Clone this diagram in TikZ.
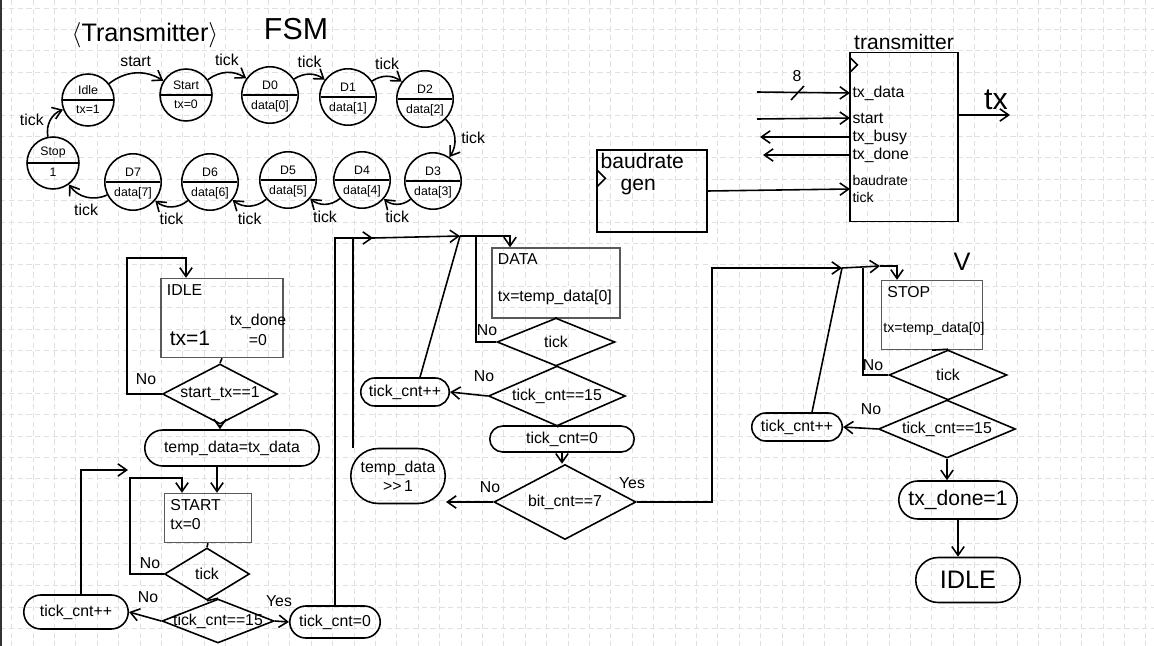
\documentclass[tikz,border=0pt]{standalone}
\usepackage{fontspec}
\setmainfont{Liberation Sans}
\usetikzlibrary{arrows.meta, positioning, shapes.geometric, shapes.misc, shapes.multipart, calc}

\begin{document}
\begin{tikzpicture}[
  x=0.02cm, y=-0.02cm,
  line width=0.9pt,
  gridln/.style = {draw=black!12, dash pattern=on 3pt off 2pt, line width=0.4pt},
  st/.style     = {circle split, draw, minimum size=1.04cm, inner xsep=0pt, inner ysep=2.5pt,
                   font=\fontsize{7}{7.5}\selectfont},
  arr/.style    = {-{Straight Barb[length=5pt,width=7pt]}},
  blk/.style    = {rectangle, draw, line width=0.7pt},
  sbox/.style   = {rectangle, draw=black!65, line width=0.8pt},
  dec/.style    = {diamond, draw, inner sep=0pt, label={[font=\small]center:#1}},
  term/.style   = {rounded rectangle, draw, inner sep=1pt, font=\small},
  lbl/.style    = {font=\small},
  pin/.style    = {anchor=west, inner sep=1pt, font=\small},
]

%% --- paper ---
\useasboundingbox (0,0) rectangle (1154,646);
\fill[white] (0,0) rectangle (1154,646);
\foreach \gx in {0,...,53}
  \draw[gridln] ({11.5+21.4*\gx},0) -- ({11.5+21.4*\gx},646);
\foreach \gy in {0,...,30}
  \draw[gridln] (0,{8+21.4*\gy}) -- (1154,{8+21.4*\gy});
\fill[black!80] (0,0) rectangle (2.5,646);

%% --- FSM title ---
\node[font=\Large] (ttl)    at (145,35) {$\langle$Transmitter$\rangle$};
\node[font=\LARGE] (ttlfsm) at (296,29) {FSM};

%% --- FSM states ---
\node[st] (sidle)  at (88,100) {Idle \nodepart{lower} tx=1};
\node[st] (sstart) at (186,95) {Start \nodepart{lower} tx=0};
\foreach \i/\px/\py in {0/270/95, 1/348/97, 2/425/99, 3/433/181,
                        4/362/180, 5/288/180, 6/210/182, 7/133/182}
  \node[st] (sd\i) at (\px,\py) {D\i \nodepart{lower} data[\i]};
\node[st] (sstop)  at (53,163) {Stop \nodepart{lower} 1};

%% --- FSM transitions ---
\draw[arr] (sidle) to[bend left=35] node[lbl, above]{start} (sstart);
\foreach \a/\b in {sstart/sd0, sd0/sd1, sd1/sd2}
  \draw[arr] (\a) to[bend left=35] node[lbl, above]{tick} (\b);
\draw[arr] (sd2) to[bend left=40] node[lbl, right]{tick} (sd3);
\foreach \a/\b in {sd3/sd4, sd4/sd5, sd5/sd6, sd6/sd7}
  \draw[arr] (\a) to[bend left=40] node[lbl, below]{tick} (\b);
\draw[arr] (sd7)   to[bend left=40] node[lbl, below]{tick} (sstop);
\draw[arr] (sstop) to[bend left=40] node[lbl, left]{tick} (sidle);

%% --- block diagram ---
\node[blk, minimum width=2.16cm, minimum height=3.38cm,
      label={[font=\large, inner sep=1pt]above:transmitter}] (txblk) at (904,137) {};
\draw ([yshift=-0.1cm]txblk.north west) -- ++(8,8) -- ++(-8,8);
\node[pin] (ptxd)   at (850,93)  {tx\_data};
\node[pin] (pstart) at (850,118) {start};
\node[pin] (pbusy)  at (850,137) {tx\_busy};
\node[pin] (pdone)  at (850,155) {tx\_done};
\node[pin, align=left, font=\footnotesize] (pbaud) at (850,189) {baudrate\\tick};

\node[blk, minimum width=2.2cm, minimum height=1.64cm] (bgen) at (652,191) {};
\node[anchor=north west, align=left, font=\large, inner sep=2pt] (bgent)
     at (bgen.north west) {baudrate\\[-2pt]\hspace{0.4cm}gen};
\draw ([yshift=-0.4cm]bgen.north west) -- ++(9,9) -- ++(-9,9);

\coordinate (intxd)   at (757,92);
\coordinate (instart) at (757,119);
\coordinate (outbusy) at (760,137);
\coordinate (outdone) at (763,155);
\coordinate (outtx)   at (1010,115);
\draw[arr] (intxd)   -- (ptxd.west);
\draw (791,100) -- (804,86);
\node[lbl] (nbus) at (797,76) {8};
\draw[arr] (instart) -- (pstart.west);
\draw[arr] (pbusy.west) -- (outbusy);
\draw[arr] (pdone.west) -- (outdone);
\draw[arr] (bgen.east)  -- (pbaud.west);
\draw[arr] (txblk.east |- outtx) -- (outtx);
\node[font=\LARGE] (ntx) at (996,100) {tx};

%% --- flow 1: IDLE / START ---
\node[sbox, minimum width=2.44cm, minimum height=1.58cm] (fidle) at (222,318) {};
\node[anchor=north west, font=\small] (fidlet) at (fidle.north west) {IDLE};
\node[font=\large] (fidletx) at (190,338) {tx=1};
\node[align=center, font=\small, inner sep=0pt] (fidledn) at (258,330) {tx\_done\\=0};
\node[dec={start\_tx==1}, minimum width=2.3cm, minimum height=1.2cm] (fstart) at (220,394) {};
\node[term, minimum width=3.56cm, minimum height=0.72cm] (ftemp) at (232,448) {temp\_data=tx\_data};
\node[sbox, minimum width=1.74cm, minimum height=0.98cm] (fst) at (208,518) {};
\node[anchor=north west, align=left, font=\small] (fstt) at (fst.north west) {START\\tx=0};
\node[dec={tick}, minimum width=1.7cm, minimum height=1.04cm] (ftick1) at (207,574) {};
\node[dec={tick\_cnt==15}, minimum width=2.24cm, minimum height=0.88cm] (fcnt1) at (218,621) {};
\node[term, minimum width=2.16cm, minimum height=0.68cm] (finc1) at (76,612) {tick\_cnt++};
\node[term, minimum width=1.88cm, minimum height=0.64cm] (fclr1) at (335,622) {tick\_cnt=0};

\draw (fidle.south) -- (fstart.north);
\draw[arr] (fstart.west) -| (127,258) -| ([xshift=-0.72cm]fidle.north);
\node[lbl] (nno1) at (146,379) {No};
\draw[arr] (fstart.south) -- (fstart.south |- ftemp.north);
\draw[arr] ([xshift=-0.3cm]ftemp.south) -- ([xshift=-0.3cm]ftemp.south |- fst.north);
\draw (fst.south) -- (ftick1.north);
\draw[arr] (ftick1.west) -| (130,478) -| ([xshift=-0.52cm]fst.north);
\node[lbl] (nno2) at (150,563) {No};
\draw (ftick1.south) -- (fcnt1.north);
\draw[arr] (fcnt1.west) -- (finc1.east);
\node[lbl] (nno3) at (148,597) {No};
\draw[arr] (fcnt1.east) -- (fclr1.west);
\node[lbl] (nyes1) at (279,601) {Yes};
\coordinate (j0) at (128,470);
\draw[arr] ([xshift=0.1cm]finc1.north) |- (j0);
\coordinate (j1) at (373,238);
\draw[arr] (fclr1.north) |- (j1);

%% --- flow 2: DATA ---
\node[sbox, minimum width=2.56cm, minimum height=1.4cm] (fdata) at (556,283) {};
\node[anchor=north west, font=\small] (fdatat) at (fdata.north west) {DATA};
\node[anchor=west, font=\small] (fdatatx) at ([yshift=-0.28cm]fdata.west) {tx=temp\_data[0]};
\node[dec={tick}, minimum width=2.36cm, minimum height=0.96cm] (ftick2) at (556,342) {};
\node[dec={tick\_cnt==15}, minimum width=2.74cm, minimum height=1.2cm] (fcnt2) at (557,396) {};
\node[term, minimum width=1.84cm, minimum height=0.56cm] (finc2) at (405,392) {tick\_cnt++};
\node[term, minimum width=2.96cm, minimum height=0.52cm] (fclr2) at (562,439) {tick\_cnt=0};
\node[dec={bit\_cnt==7}, minimum width=2.84cm, minimum height=1.5cm] (fbit) at (565,502) {};
\node[term, minimum width=1.96cm, minimum height=1.1cm, align=center] (fshift) at (398,476)
     {temp\_data\\{>}{>}\,1};

\coordinate (j2) at (460,236);
\coordinate (j3) at (476,236);
\draw (fdata.south) -- (ftick2.north);
\draw ([xshift=-0.9cm]fshift.north) |- (j1);
\draw[arr] (j1) -- (j2);
\draw[arr] (j2) -| ([xshift=-0.92cm]fdata.north);
\draw (ftick2.west) -| (j3);
\node[lbl] (nno4) at (487,330) {No};
\draw (ftick2.south) -- (fcnt2.north);
\draw[arr] (fcnt2.west) -- (finc2.east);
\node[lbl] (nno5) at (484,376) {No};
\draw ([xshift=0.3cm]finc2.north) -- (j2);
\draw (fcnt2.south) -- (fclr2.north);
\draw[arr] (fclr2.south) -- (fclr2.south |- fbit.north);
\draw[arr] (fbit.west) -- (fbit.west -| fshift.east);
\node[lbl] (nno6) at (490,487) {No};
\node[lbl] (nyes2) at (632,483) {Yes};

%% --- flow 3: STOP ---
\node[sbox, minimum width=2.02cm, minimum height=1.38cm] (fstop) at (932,315) {};
\node[anchor=north west, font=\small] (fstopt) at (fstop.north west) {STOP};
\node[anchor=west, font=\footnotesize, inner sep=1pt] (fstoptx) at ([yshift=-0.28cm]fstop.west) {tx=temp\_data[0]};
\node[font=\Large] (chk) at (962,262) {V};
\node[dec={tick}, minimum width=2.36cm, minimum height=1.0cm] (ftick3) at (948,375) {};
\node[dec={tick\_cnt==15}, minimum width=2.74cm, minimum height=1.16cm] (fcnt3) at (947,429) {};
\node[term, minimum width=1.88cm, minimum height=0.56cm] (finc3) at (797,427) {tick\_cnt++};
\node[term, minimum width=2.44cm, minimum height=0.76cm, font=\large] (fdone) at (958,500) {tx\_done=1};
\node[term, minimum width=2.16cm, minimum height=0.9cm, font=\Large] (fidle2) at (968,580) {IDLE};

\coordinate (j4) at (842,268);
\coordinate (j5) at (880,266);
\coordinate (j6) at (863,268);
\draw[arr] (fbit.east) -| (712,268) -- (j4);
\draw ([xshift=0.3cm]finc3.north) -- (j4);
\draw[arr] (j4) -- (j5);
\draw[arr] (j5) -| ([xshift=-0.7cm]fstop.north);
\draw (fstop.south) -- (ftick3.north);
\draw (ftick3.west) -| (j6);
\node[lbl] (nno7) at (873,365) {No};
\draw (ftick3.south) -- (fcnt3.north);
\draw[arr] (fcnt3.west) -- (finc3.east);
\node[lbl] (nno8) at (871,409) {No};
\draw[arr] (fcnt3.south) -- (fcnt3.south |- fdone.north);
\draw[arr] (fdone.south) -- (fdone.south |- fidle2.north);

\end{tikzpicture}
\end{document}
